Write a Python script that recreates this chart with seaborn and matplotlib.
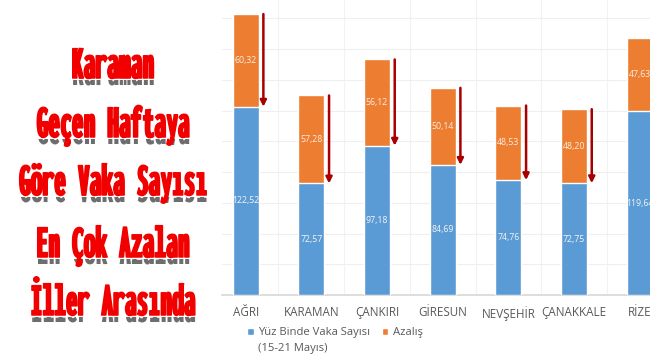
import numpy as np
import pandas as pd
import matplotlib
matplotlib.use("Agg")
import matplotlib.pyplot as plt
import matplotlib.patheffects as pe
from matplotlib.patches import Patch
from matplotlib import font_manager as fm
from matplotlib.textpath import TextPath
from matplotlib.transforms import Bbox
import seaborn as sns

# ---- data ----
cities = ["AĞRI", "KARAMAN", "ÇANKIRI", "GİRESUN", "NEVŞEHİR", "ÇANAKKALE", "RİZE"]
cases = [122.52, 72.57, 97.18, 84.69, 74.76, 72.75, 119.64]
decrease = [60.32, 57.28, 56.12, 50.14, 48.53, 48.20, 47.63]
cases_labels = ["122,52", "72,57", "97,18", "84,69", "74,76", "72,75", "119,64"]
decrease_labels = ["60,32", "57,28", "56,12", "50,14", "48,53", "48,20", "47,63"]
title_lines = ["Karaman", "Geçen Haftaya", "Göre Vaka Sayısı", "En Çok Azalan", "İller Arasında"]
legend_labels = ["Yüz Binde Vaka Sayısı", "Azalış"]
legend_sub = "(15-21 Mayıs)"

BLUE = "#5b9bd5"
ORANGE = "#ed7d31"
ARROW = "#a80000"
GREY = "#595959"
RED = "#f20000"

sns.set_theme(style="white")
plt.rcParams["font.family"] = ["Open Sans", "DejaVu Sans"]

# pick the heaviest (then narrowest) condensed sans font available
def pick_condensed():
    best = None
    for f in fm.fontManager.ttflist:
        name = f.name.lower()
        fn = f.fname.lower()
        if "mono" in name or "mono" in fn:
            continue
        narrow = (f.stretch in ("condensed", "semi-condensed", "extra-condensed",
                                "ultra-condensed")
                  or "narrow" in name or "condensed" in name
                  or "condensed" in fn or "narrow" in fn)
        w = f.weight if isinstance(f.weight, int) else 400
        if not (narrow and w >= 600 and f.style == "normal"
                and "italic" not in fn and "oblique" not in fn):
            continue
        try:
            fp = fm.FontProperties(fname=f.fname)
            ext = TextPath((0, 0), "Göre Vaka Sayısı", size=10, prop=fp).get_extents()
            cap = TextPath((0, 0), "H", size=10, prop=fp).get_extents().height
            ratio = ext.width / cap
        except Exception:
            continue
        score = w * 10 - ratio
        if best is None or score > best[0]:
            best = (score, f.fname)
    return best[1] if best else None

cond_file = pick_condensed()
if cond_file:
    title_fp = fm.FontProperties(fname=cond_file)
else:
    title_fp = fm.FontProperties(family="DejaVu Sans", weight="bold")


class BandShadow(pe.SimplePatchShadow):
    """Dark shadow copy shown only inside a thin band below the text."""
    def __init__(self, band, **kw):
        super().__init__(**kw)
        self._band = band

    def draw_path(self, renderer, gc, tpath, affine, rgbFace):
        gc0 = renderer.new_gc()
        gc0.copy_properties(gc)
        gc0.set_clip_rectangle(self._band)
        gc0.set_alpha(self._alpha)
        gc0 = self._update_gc(gc0, self._gc)
        renderer.draw_path(gc0, tpath, affine + self._offset_transform(renderer),
                           self._shadow_rgbFace)
        gc0.restore()


df = pd.DataFrame({"city": cities, "cases": cases, "decrease": decrease})
df["total"] = df["cases"] + df["decrease"]

W, H = 650, 360
fig = plt.figure(figsize=(6.5, 3.6), dpi=100)
ax = fig.add_axes([222 / W, 1 - 295 / H, 1 - 222 / W, 295 / H])

sns.barplot(data=df, x="city", y="total", color=ORANGE, width=0.4,
            saturation=1, ax=ax, zorder=2)
sns.barplot(data=df, x="city", y="cases", color=BLUE, width=0.4,
            saturation=1, ax=ax, zorder=3)

ax.set_yticks(np.arange(0, 200, 20))
ax.set_yticklabels([])
ax.set_xticks(np.arange(-0.5, 7, 0.5), minor=True)
ax.set_ylim(0, 192)
ax.set_xlim(-0.36, 6.157)
ax.grid(axis="y", which="major", color="#efefef", lw=0.8)
ax.grid(axis="x", which="minor", color="#f2f2f2", lw=0.8)
ax.set_axisbelow(True)
ax.set_xlabel("")
ax.set_ylabel("")
for s in ["left", "right", "top"]:
    ax.spines[s].set_visible(False)
ax.spines["bottom"].set_color("#d9d9d9")
ax.tick_params(axis="x", which="both", length=0, pad=8, labelsize=8.4,
               labelcolor=GREY)
ax.tick_params(axis="y", length=0)

for i in range(len(cities)):
    ax.text(i, cases[i] / 2, cases_labels[i], ha="center", va="center",
            fontsize=6.3, color="#f4f4f4", zorder=5)
    ax.text(i, cases[i] + decrease[i] / 2, decrease_labels[i], ha="center",
            va="center", fontsize=6.3, color="#fbeee4", zorder=5)
    xa = i + 0.27
    ax.annotate("", xy=(xa, cases[i]), xytext=(xa, cases[i] + decrease[i]),
                arrowprops=dict(arrowstyle="-|>", color=ARROW, lw=1.8,
                                mutation_scale=9, shrinkA=0, shrinkB=0),
                zorder=6, annotation_clip=False)

handles = [Patch(facecolor=BLUE), Patch(facecolor=ORANGE)]
fig.legend(handles, legend_labels, loc="center left",
           bbox_to_anchor=(247 / W, 1 - 333 / H), ncol=2, frameon=False,
           handlelength=0.6, handleheight=0.6, handletextpad=0.4,
           columnspacing=1.0, fontsize=8.1, labelcolor=GREY, borderaxespad=0,
           borderpad=0)
fig.text(258 / W, 1 - 349 / H, legend_sub, ha="left", va="center",
         fontsize=8.1, color=GREY)

# headline: fit the widest line to the reference width
fig.canvas.draw()
renderer = fig.canvas.get_renderer()
base = 20.0
probe = fig.text(0, 0, title_lines[2], fontproperties=title_fp, fontsize=base)
wpx = probe.get_window_extent(renderer).width
probe.remove()
size = min(base * 190.0 / wpx, 35.0)

baselines = [78, 137, 195, 257, 315]
off_pt = -7 * 72 / 100.0
for line, yb in zip(title_lines, baselines):
    band = Bbox.from_extents(0, H - (yb + 8), 220, H - (yb + 2))
    fx = [BandShadow(band, offset=(0.3 * 72 / 100, off_pt),
                     shadow_rgbFace="#3c3c3c", alpha=0.75),
          pe.Stroke(linewidth=1.1, foreground=RED), pe.Normal()]
    fig.text(113 / W, 1 - yb / H, line, ha="center", va="baseline",
             fontproperties=title_fp, fontsize=size, color=RED,
             path_effects=fx)

fig.savefig("out.png", dpi=100, facecolor="white")
